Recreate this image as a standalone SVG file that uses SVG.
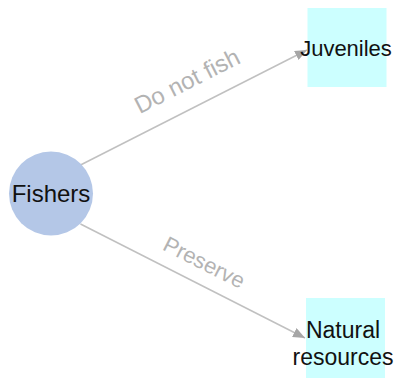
<svg xmlns="http://www.w3.org/2000/svg" width="403" height="378" viewBox="0 0 403 378">
<style>
.node-text{font-family:"Liberation Sans",Arial,sans-serif;font-size:23px;fill:#111;text-anchor:middle}
.edge{stroke:#c0c0c0;stroke-width:1.5;fill:none}
.edge-label{font-family:"Liberation Sans",Arial,sans-serif;font-size:22px;fill:#b3b3b3;text-anchor:middle}
.box{fill:#ccffff}
</style>
<defs>
<marker id="arrow" viewBox="0 0 12 10" refX="12" refY="5" markerWidth="12" markerHeight="10" markerUnits="userSpaceOnUse" orient="auto">
<path d="M0,0 L12,5 L0,10 Z" fill="#a6a6a6"/>
</marker>
</defs>
<rect width="403" height="378" fill="#ffffff"/>
<g id="connectors">
<line class="edge" x1="80.5" y1="165" x2="307" y2="50" marker-end="url(#arrow)"/>
<line class="edge" x1="80.5" y1="224" x2="305" y2="338" marker-end="url(#arrow)"/>
<text class="edge-label" style="font-size:24px" transform="translate(190.8,88.3) rotate(-26.9)">Do not fish</text>
<text class="edge-label" transform="translate(200.8,269.2) rotate(26.9)">Preserve</text>
</g>
<g id="fishers">
<circle cx="51" cy="193.5" r="42" fill="#b4c7e7"/>
<text class="node-text" style="font-size:24px" x="51" y="202.3">Fishers</text>
</g>
<g id="juveniles">
<rect class="box" x="307.5" y="8" width="79" height="79"/>
<text class="node-text" style="font-size:22px" x="346" y="56">Juveniles</text>
</g>
<g id="natural-resources">
<rect class="box" x="306" y="298" width="79" height="80"/>
<text class="node-text" x="343" y="338">Natural</text>
<text class="node-text" x="343" y="365">resources</text>
</g>
</svg>
